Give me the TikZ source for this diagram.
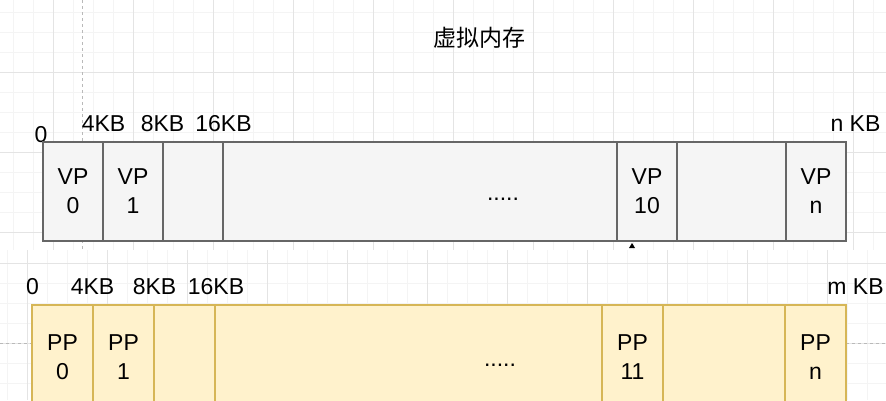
\documentclass[tikz,border=0pt]{standalone}
\usepackage{fontspec}
\setmainfont{Liberation Sans}
\newfontfamily\cjk{Noto Sans CJK SC}
\usepackage{xcolor}
\usetikzlibrary{positioning}
\definecolor{vpfill}{HTML}{F5F5F5}
\definecolor{vpline}{HTML}{666666}
\definecolor{ppfill}{HTML}{FFF2CC}
\definecolor{ppline}{HTML}{D6B656}
\definecolor{gridthin}{HTML}{F4F4F4}
\definecolor{gridthick}{HTML}{E4E4E4}
\tikzset{vpage/.style={draw=vpline,fill=vpfill,line width=2pt,minimum height=99pt,inner sep=0pt,outer sep=0pt,align=center,font=\fontsize{23}{29}\selectfont}}
\tikzset{ppage/.style={draw=ppline,fill=ppfill,line width=2pt,minimum height=104pt,inner sep=0pt,outer sep=0pt,align=center,font=\fontsize{23}{29}\selectfont}}
\tikzset{addr/.style={anchor=base,inner sep=0pt,font=\fontsize{23}{23}\selectfont}}
\tikzset{gridfine/.style={gridthin,line width=0.8pt}}
\tikzset{gridbold/.style={gridthick,line width=0.8pt}}
\tikzset{guide/.style={dashed,gray!55,line width=0.9pt}}

\begin{document}
\begin{tikzpicture}[x=1pt,y=-1pt]
            \clip (0,0) rectangle (886,400);
            \fill[white] (0,0) rectangle (886,400);
            % draw the grid (top and bottom part)
            \foreach \gx in {13,33,...,873} \draw[gridfine] (\gx,0) -- (\gx,250);
            \foreach \gy in {12,32,...,232} \draw[gridfine] (0,\gy) -- (886,\gy);
            \foreach \gx in {53,133,...,853} \draw[gridbold] (\gx,0) -- (\gx,250);
            \foreach \gy in {72,152,232} \draw[gridbold] (0,\gy) -- (886,\gy);
            \foreach \gx in {7,27,...,887} \draw[gridfine] (\gx,250) -- (\gx,400);
            \foreach \gy in {263,283,...,383} \draw[gridfine] (0,\gy) -- (886,\gy);
            \foreach \gx in {27,107,...,827} \draw[gridbold] (\gx,250) -- (\gx,400);
            \foreach \gy in {263,343} \draw[gridbold] (0,\gy) -- (886,\gy);
            % draw the guides
            \draw[guide] (82,0) -- (82,250);
            \draw[guide] (0,343) -- (886,343);

            \node[font=\cjk\fontsize{23}{23}\selectfont] (title) at (479,38) {虚拟内存};

            % draw the virtual pages
            \node[addr] (va0) at (41,142) {0};
            \node[addr] (va4) at (103.5,131) {4KB};
            \node[addr] (va8) at (162.5,131) {8KB};
            \node[addr] (va16) at (223.5,131) {16KB};
            \node[addr] (van) at (855.5,131) {n KB};
            \node[vpage,minimum width=60pt,anchor=west] (vp0) at (43,191.5) {VP\\0};
            \node[vpage,minimum width=60pt,right=0pt of vp0] (vp1) {VP\\1};
            \node[vpage,minimum width=60pt,right=0pt of vp1] (vp2) {};
            \node[vpage,minimum width=394pt,right=0pt of vp2] (vpmid) {};
            \node[vpage,minimum width=60pt,right=0pt of vpmid] (vp10) {VP\\10};
            \node[vpage,minimum width=109pt,right=0pt of vp10] (vp11) {};
            \node[vpage,minimum width=60pt,right=0pt of vp11] (vpn) {VP\\n};
            \node[addr] (vdots) at (503,200) {.....};
            \fill[black] (632,243) -- (635,248) -- (629,248) -- cycle;

            % draw the physical pages
            \node[addr] (pa0) at (32.5,294) {0};
            \node[addr] (pa4) at (92.5,294) {4KB};
            \node[addr] (pa8) at (154.5,294) {8KB};
            \node[addr] (pa16) at (216,294) {16KB};
            \node[addr] (pam) at (855.5,294) {m KB};
            \node[ppage,minimum width=61pt,anchor=west] (pp0) at (32,357) {PP\\0};
            \node[ppage,minimum width=61pt,right=0pt of pp0] (pp1) {PP\\1};
            \node[ppage,minimum width=61pt,right=0pt of pp1] (pp2) {};
            \node[ppage,minimum width=387pt,right=0pt of pp2] (ppmid) {};
            \node[ppage,minimum width=61pt,right=0pt of ppmid] (pp11) {PP\\11};
            \node[ppage,minimum width=122pt,right=0pt of pp11] (pp12) {};
            \node[ppage,minimum width=61pt,right=0pt of pp12] (ppn) {PP\\n};
            \node[addr] (pdots) at (500,366) {.....};
        \end{tikzpicture}
\end{document}
